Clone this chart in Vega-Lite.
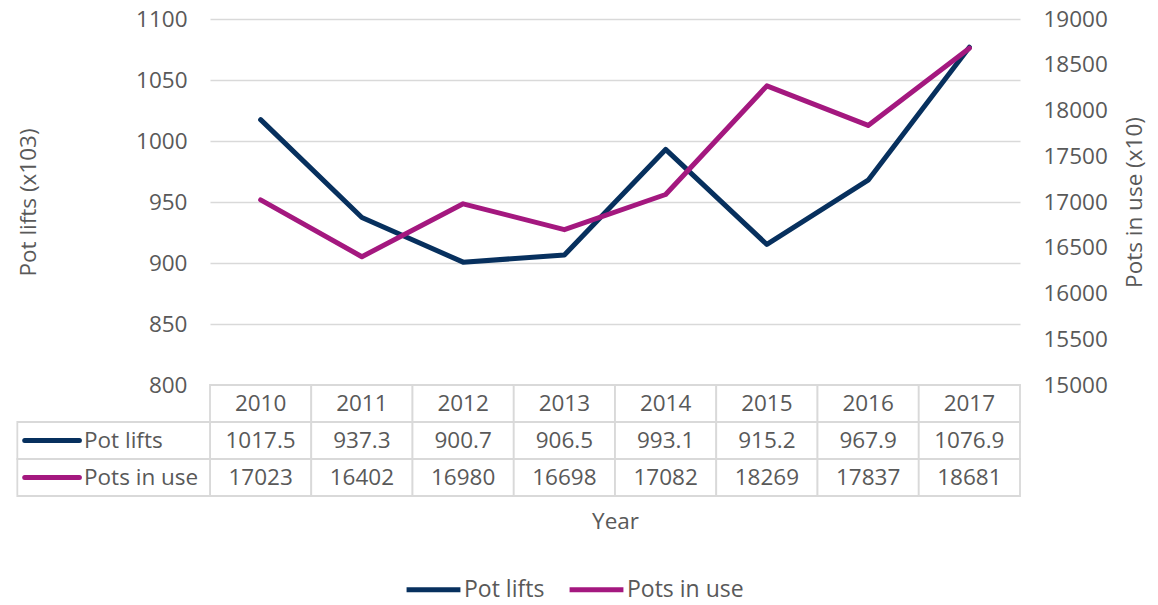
{
  "$schema": "https://vega.github.io/schema/vega-lite/v6.json",
  "padding": {"left": 16, "top": 8, "right": 5, "bottom": 5},
  "background": "white",
  "config": {
    "font": "Open Sans",
    "view": {"stroke": null},
    "text": {"color": "#595959", "fontSize": 22.5, "font": "Open Sans"},
    "axis": {"labelColor": "#595959", "titleColor": "#595959", "labelFontSize": 22.5, "titleFontSize": 22.5, "titleFontWeight": "normal", "labelFont": "Open Sans", "titleFont": "Open Sans"},
    "legend": {"title": null, "orient": "none", "direction": "horizontal", "symbolType": "stroke", "symbolStrokeWidth": 5, "symbolSize": 2900, "labelFontSize": 23, "labelColor": "#595959", "labelFont": "Open Sans", "labelOffset": 1, "columnPadding": 14}
  },
  "datasets": {
    "main": [
      {"year": 2010, "Pot lifts": 1017.5, "Pots in use": 17023},
      {"year": 2011, "Pot lifts": 937.3, "Pots in use": 16402},
      {"year": 2012, "Pot lifts": 900.7, "Pots in use": 16980},
      {"year": 2013, "Pot lifts": 906.5, "Pots in use": 16698},
      {"year": 2014, "Pot lifts": 993.1, "Pots in use": 17082},
      {"year": 2015, "Pot lifts": 915.2, "Pots in use": 18269},
      {"year": 2016, "Pot lifts": 967.9, "Pots in use": 17837},
      {"year": 2017, "Pot lifts": 1076.9, "Pots in use": 18681}
    ],
    "rows": [{"series": "Pot lifts"}, {"series": "Pots in use"}]
  },
  "spacing": 0,
  "bounds": "flush",
  "resolve": {"scale": {"color": "shared"}},
  "vconcat": [
    {
      "width": 810,
      "height": 366,
      "data": {"name": "main"},
      "layer": [
        {
          "mark": {"type": "line", "strokeWidth": 5, "strokeCap": "round", "strokeJoin": "round"},
          "encoding": {
            "x": {"field": "year", "type": "ordinal", "scale": {"type": "point", "padding": 0.5}, "axis": null},
            "y": {"field": "Pot lifts", "type": "quantitative",
              "scale": {"domain": [800, 1100], "zero": false, "nice": false},
              "axis": {"orient": "left", "format": "d", "values": [800, 850, 900, 950, 1000, 1050, 1100], "grid": true, "gridColor": "#d9d9d9", "gridWidth": 1.6, "domain": false, "ticks": false, "labelPadding": 23, "title": "Pot lifts (x103)", "titlePadding": 95}},
            "color": {"datum": "Pot lifts", "type": "nominal",
              "scale": {"domain": ["Pot lifts", "Pots in use"], "range": ["#07305e", "#a4187f"]},
              "legend": {"title": null, "orient": "none", "legendX": 194, "legendY": 541, "direction": "horizontal", "symbolType": "stroke", "symbolStrokeWidth": 5, "symbolSize": 2900, "labelOffset": 1, "columnPadding": 14}}
          }
        },
        {
          "mark": {"type": "line", "strokeWidth": 5, "strokeCap": "round", "strokeJoin": "round"},
          "encoding": {
            "x": {"field": "year", "type": "ordinal", "scale": {"type": "point", "padding": 0.5}, "axis": null},
            "y": {"field": "Pots in use", "type": "quantitative",
              "scale": {"domain": [15000, 19000], "zero": false, "nice": false},
              "axis": {"orient": "right", "format": "d", "values": [15000, 15500, 16000, 16500, 17000, 17500, 18000, 18500, 19000], "grid": false, "domain": false, "ticks": false, "labelPadding": 23, "title": "Pots in use (x10)", "titleAngle": 270, "titleBaseline": "top", "titlePadding": 16}},
            "color": {"datum": "Pots in use", "type": "nominal",
              "legend": {"title": null, "orient": "none", "legendX": 194, "legendY": 541, "direction": "horizontal", "symbolType": "stroke", "symbolStrokeWidth": 5, "symbolSize": 2900, "labelOffset": 1, "columnPadding": 14}}
          }
        }
      ],
      "resolve": {"scale": {"y": "independent"}}
    },
    {
      "width": 810,
      "height": 111,
      "layer": [
        {
          "layer": [
            {
              "data": {"name": "main"},
              "transform": [{"fold": ["Pot lifts", "Pots in use"], "as": ["key", "value"]}],
              "mark": {"type": "rect", "fill": "white", "stroke": "#d9d9d9", "strokeWidth": 1.8},
              "encoding": {
                "x": {"field": "year", "type": "nominal", "scale": {"type": "band", "paddingInner": 0, "paddingOuter": 0}, "axis": {"title": "Year", "labels": false, "ticks": false, "domain": false, "titlePadding": 14}},
                "y": {"field": "key", "type": "nominal", "scale": {"domain": ["Year", "Pot lifts", "Pots in use"], "paddingInner": 0, "paddingOuter": 0}, "axis": null}
              }
            },
            {
              "data": {"name": "main"},
              "mark": {"type": "rect", "fill": "white", "stroke": "#d9d9d9", "strokeWidth": 1.8},
              "encoding": {
                "x": {"field": "year", "type": "nominal", "scale": {"type": "band", "paddingInner": 0, "paddingOuter": 0}},
                "y": {"datum": "Year", "type": "nominal"}
              }
            },
            {
              "data": {"name": "main"},
              "transform": [{"fold": ["Pot lifts", "Pots in use"], "as": ["key", "value"]}],
              "mark": {"type": "text", "align": "center", "baseline": "middle"},
              "encoding": {
                "x": {"field": "year", "type": "nominal", "scale": {"type": "band", "paddingInner": 0, "paddingOuter": 0}},
                "y": {"field": "key", "type": "nominal"},
                "text": {"field": "value", "type": "nominal"}
              }
            },
            {
              "data": {"name": "main"},
              "mark": {"type": "text", "align": "center", "baseline": "middle"},
              "encoding": {
                "x": {"field": "year", "type": "nominal", "scale": {"type": "band", "paddingInner": 0, "paddingOuter": 0}},
                "y": {"datum": "Year", "type": "nominal"},
                "text": {"field": "year", "type": "nominal"}
              }
            }
          ]
        },
        {
          "data": {"name": "rows"},
          "layer": [
            {
              "mark": {"type": "rect", "fill": "white", "stroke": "#d9d9d9", "strokeWidth": 1.8},
              "encoding": {
                "x": {"datum": -1.903, "type": "quantitative", "scale": {"domain": [0, 8], "zero": false, "nice": false}, "axis": null},
                "x2": {"datum": 0},
                "y": {"field": "series", "type": "nominal"}
              }
            },
            {
              "mark": {"type": "rule", "strokeWidth": 5, "strokeCap": "round"},
              "encoding": {
                "x": {"datum": -1.83, "type": "quantitative"},
                "x2": {"datum": -1.29},
                "y": {"field": "series", "type": "nominal"},
                "color": {"field": "series", "type": "nominal",
                  "legend": {"title": null, "orient": "none", "legendX": 194, "legendY": 541, "direction": "horizontal", "symbolType": "stroke", "symbolStrokeWidth": 5, "symbolSize": 2900, "labelOffset": 1, "columnPadding": 14}}
              }
            },
            {
              "mark": {"type": "text", "align": "left", "baseline": "middle"},
              "encoding": {
                "x": {"datum": -1.244, "type": "quantitative"},
                "y": {"field": "series", "type": "nominal"},
                "text": {"field": "series", "type": "nominal"}
              }
            }
          ]
        }
      ],
      "resolve": {"scale": {"x": "independent"}}
    }
  ]
}
